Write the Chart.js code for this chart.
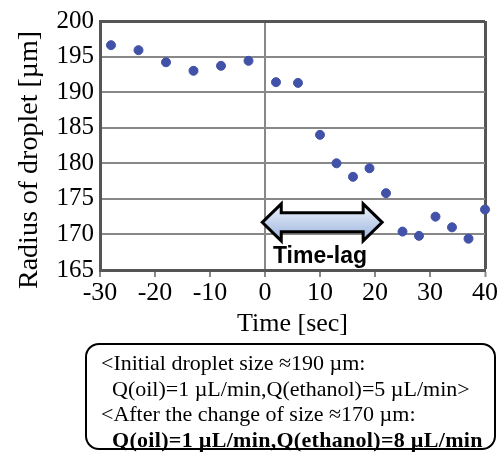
<!DOCTYPE html>
<html><head><meta charset="utf-8">
<script src="https://cdn.jsdelivr.net/npm/chart.js@4/dist/chart.umd.min.js"></script>
<style>
html,body{margin:0;padding:0;background:#fff;}
#wrap{position:relative;width:500px;height:452px;overflow:hidden;}
#c{position:absolute;left:0;top:0;}
#note{position:absolute;left:85px;top:343px;width:411px;height:107px;box-sizing:border-box;border:2px solid #000;border-radius:14px;
 font-family:"Liberation Serif","Times New Roman",serif;font-size:22px;line-height:25.5px;color:#000;padding-top:5px;white-space:nowrap;}
#note .a{padding-left:14px;}
#note .b{padding-left:25px;}
#note .bold{font-weight:bold;letter-spacing:0.3px;}
</style>
</head><body>
<div id="wrap">
<canvas id="c" width="500" height="452"></canvas>
<div id="note">
<div class="a">&lt;Initial droplet size ≈190 µm:</div>
<div class="b">Q(oil)=1 µL/min,Q(ethanol)=5 µL/min&gt;</div>
<div class="a">&lt;After the change of size ≈170 µm:</div>
<div class="b bold">Q(oil)=1 µL/min,Q(ethanol)=8 µL/min</div>
</div>
</div>
<script>
const timeSec = [-28,-23,-18,-13,-8,-3,2,6,10,13,16,19,22,25,28,31,34,37,40];
const radius  = [196.6,195.9,194.2,193.0,193.7,194.4,191.4,191.3,184.0,180.0,178.1,179.3,175.8,170.4,169.8,172.5,171.0,169.4,173.5];
const xRange = [-30, 40];
const yRange = [165, 200];
const timeLagRange = [-0.5, 21.3];
const arrowLevel = 171.7;
const lagLabel = 'Time-lag';
const lagLabelAt = [10, 166.0];
const xTitle = 'Time [sec]';
const yTitle = 'Radius of droplet [µm]';

const points = timeSec.map((t,i)=>({x:t,y:radius[i]}));
const serif = "'Liberation Serif','Times New Roman',serif";

const timeLagPlugin = {
  id:'timeLag',
  afterDatasetsDraw(chart){
    const {ctx, scales:{x,y}} = chart;
    const x1 = x.getPixelForValue(timeLagRange[0]), x2 = x.getPixelForValue(timeLagRange[1]);
    const yc = y.getPixelForValue(arrowLevel);
    const hl=19, hh=18.5, bh=9.5;
    ctx.save();
    ctx.beginPath();
    ctx.moveTo(x1,yc); ctx.lineTo(x1+hl,yc-hh); ctx.lineTo(x1+hl,yc-bh); ctx.lineTo(x2-hl,yc-bh);
    ctx.lineTo(x2-hl,yc-hh); ctx.lineTo(x2,yc); ctx.lineTo(x2-hl,yc+hh); ctx.lineTo(x2-hl,yc+bh);
    ctx.lineTo(x1+hl,yc+bh); ctx.lineTo(x1+hl,yc+hh); ctx.closePath();
    const g = ctx.createLinearGradient(0,yc-hh,0,yc+hh);
    g.addColorStop(0,'#eef3fb'); g.addColorStop(1,'#9ab3de');
    ctx.fillStyle=g; ctx.fill();
    ctx.lineWidth=3; ctx.strokeStyle='#000'; ctx.lineJoin='miter'; ctx.stroke();
    ctx.font='bold 23px "Liberation Sans", Arial, sans-serif';
    ctx.textAlign='center'; ctx.textBaseline='alphabetic'; ctx.fillStyle='#000';
    ctx.fillText(lagLabel, x.getPixelForValue(lagLabelAt[0]), y.getPixelForValue(lagLabelAt[1]));
    ctx.restore();
  }
};

const yTitlePlugin = {
  id:'yTitle',
  afterDraw(chart){
    const ctx = chart.ctx;
    ctx.save();
    ctx.translate(37, 160);
    ctx.rotate(-Math.PI/2);
    ctx.font = "28px " + serif;
    ctx.fillStyle = '#000';
    ctx.textAlign = 'center';
    ctx.textBaseline = 'alphabetic';
    ctx.fillText(yTitle, 0, 0);
    ctx.restore();
  }
};

new Chart(document.getElementById('c'), {
  type:'scatter',
  data:{datasets:[{data:points, backgroundColor:'#4152a8', borderColor:'#4152a8', pointRadius:4.5, pointHoverRadius:4.5, pointStyle:'circle', clip:false}]},
  options:{
    responsive:false, animation:false, events:[],
    layout:{padding:{left:0,right:15,top:15,bottom:112}},
    plugins:{legend:{display:false}, tooltip:{enabled:false}},
    scales:{
      x:{type:'linear', min:xRange[0], max:xRange[1],
        ticks:{stepSize:10, color:'#000', font:{family:serif,size:26}, padding:1, maxRotation:0},
        grid:{color:c=>c.tick.value===0?'#888':(c.tick.value===xRange[1]?'#555':'rgba(0,0,0,0)'),
              lineWidth:c=>c.tick.value===xRange[1]?3:2, tickColor:'#888', tickLength:7, tickWidth:2, drawTicks:true},
        border:{color:'#555', width:3},
        title:{display:true, text:xTitle, color:'#000', font:{family:serif,size:26}, padding:{top:0,bottom:0}},
        afterFit:s=>{s.height=70;}
      },
      y:{type:'linear', min:yRange[0], max:yRange[1],
        ticks:{stepSize:5, color:'#000', font:{family:serif,size:25}, padding:6},
        grid:{color:c=>c.tick.value===yRange[1]?'#555':'#888', lineWidth:c=>c.tick.value===yRange[1]?3:2, drawTicks:false},
        border:{color:'#555', width:3},
        title:{display:false},
        afterFit:s=>{s.width=100;}
      }
    }
  },
  plugins:[timeLagPlugin, yTitlePlugin]
});
</script>
</body></html>
